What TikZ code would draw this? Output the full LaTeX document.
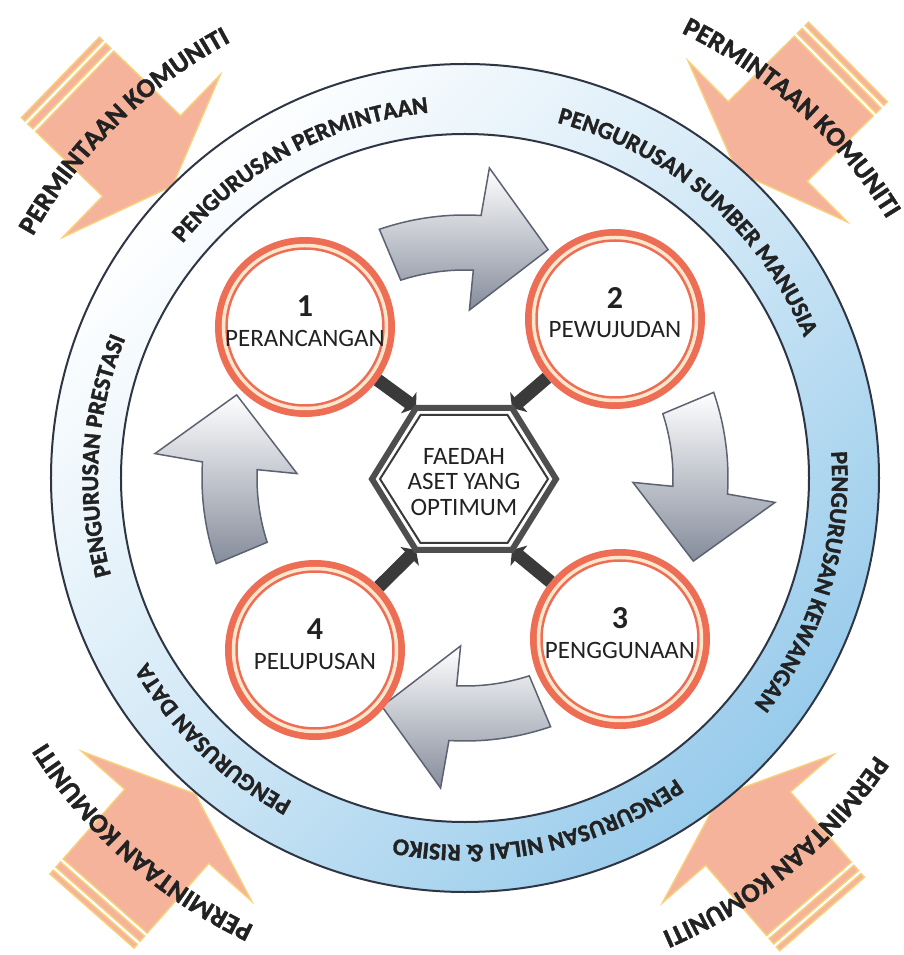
\documentclass[tikz,border=0pt]{standalone}
\usepackage{fontspec}
\setmainfont{Carlito}
\newfontfamily\myHeavy{Carlito}[UprightFont={* Bold}, UprightFeatures={FakeBold=1.6}]
\usetikzlibrary{decorations.text,arrows.meta}
\definecolor{salmon}{HTML}{F5B39B}
\definecolor{glow}{HTML}{F8CF7A}
\definecolor{ringblue}{HTML}{98CBEB}
\definecolor{ringline}{HTML}{2E3545}
\definecolor{coral}{HTML}{EE6E55}
\definecolor{paleline}{HTML}{FCE6CC}
\definecolor{arrowgray}{HTML}{858C9B}
\definecolor{arrowline}{HTML}{5C6272}
\definecolor{darkbar}{HTML}{3A3A3A}
\definecolor{txt}{HTML}{222222}
\newcommand{\myBandFont}{\myHeavy\fontsize{24}{24}\selectfont}
\newcommand{\myKomFont}{\myHeavy\fontsize{27}{27}\selectfont}
\newcommand{\myBand}[2]{\path[font=\myBandFont,decorate,decoration={text along path,text align=center,text color=txt,text={|\myBandFont|#2}}] ({#1+40}:367) arc[start angle={#1+40},end angle={#1-40},radius=367];}
\newcommand{\myKom}[1]{\path[font=\myKomFont,decorate,decoration={text along path,text align=center,text color=txt,text={|\myKomFont|PERMINTAAN KOMUNITI}}] ({#1+30}:495) arc[start angle={#1+30},end angle={#1-30},radius=495];}
\tikzset{
  komarrow/.style={fill=salmon, draw=glow, line width=1.5pt},
  grayarrow/.style={top color=white, middle color=arrowgray!40, bottom color=arrowgray, draw=arrowline, line width=1.5pt},
  stagecircle/.style={circle, draw=coral, line width=7pt, fill=white, minimum size=173pt, inner sep=0pt},
  numtext/.style={font=\bfseries\fontsize{32}{32}\selectfont, text=txt, inner sep=0pt},
  labtext/.style={font=\fontsize{25}{25}\selectfont, text=txt, inner sep=0pt},
  hextext/.style={font=\fontsize{25}{25.5}\selectfont, text=txt, align=center, inner sep=0pt},
  conn/.style={draw=darkbar, line width=13pt, -{Triangle[width=26pt,length=9pt]}},
  hexout/.style={draw=darkbar!90, line width=6pt, fill=white, line join=miter},
  hexin/.style={draw=darkbar, line width=2pt}
}
\begin{document}
\begin{tikzpicture}[x=1pt,y=1pt]
\useasboundingbox (-465,-477) rectangle (439,478);
\fill[white] (-465,-477) rectangle (439,478);
% corner arrows
\foreach \tx/\ty/\ang in {-404.6/400.6/-44.1, 383/416/-135.3, 357/-436/130.9, -373/-433/48.6} {
  \begin{scope}[shift={(\tx,\ty)}, rotate=\ang]
    \filldraw[komarrow] (0,-56) rectangle (5,56);
    \filldraw[komarrow] (9,-56) rectangle (16,56);
    \filldraw[komarrow] (20,-56) -- (113,-56) -- (113,-113) -- (156,0) -- (113,113) -- (113,56) -- (20,56) -- cycle;
  \end{scope}
}
\myKom{134.5}
\myKom{47.8}
\myKom{-50.3}
\myKom{228.5}
% ring band
\shade[top color=white, bottom color=ringblue, middle color=ringblue!45, shading angle=45, even odd rule]
  (0,0) circle[radius=414] (0,0) circle[radius=344];
\draw[ringline, line width=2pt] (0,0) circle[radius=414];
\draw[ringline, line width=2pt] (0,0) circle[radius=344];
\myBand{118}{PENGURUSAN PERMINTAAN}
\myBand{49}{PENGURUSAN SUMBER MANUSIA}
\myBand{-17}{PENGURUSAN KEWANGAN}
\myBand{-78}{PENGURUSAN NILAI {\&} RISIKO}
\myBand{226}{PENGURUSAN DATA}
\myBand{176.5}{PENGURUSAN PRESTASI}
% gray curved arrows
\foreach \a in {0,90,180,270} {
  \shade[grayarrow] ({\a+19}:263) arc[start angle={\a+19}, end angle={\a-3.5}, radius=263]
    -- ({\a-4.5}:311) -- ({\a-20}:243) -- ({\a-1.5}:168) -- ({\a-2.3}:208)
    arc[start angle={\a-2.3}, end angle={\a+18}, radius=208] -- cycle;
}
% stage circles
\node[stagecircle] (c1) at (-160,151) {};
\node[stagecircle] (c2) at (150,159) {};
\node[stagecircle] (c3) at (155,-161) {};
\node[stagecircle] (c4) at (-150,-172) {};
\foreach \c in {c1,c2,c3,c4} {
  \draw[paleline, line width=3.5pt] (\c.center) circle[radius=81.5];
  \draw[coral, line width=2.5pt] (\c.center) circle[radius=78.5];
}
\node[numtext] (n1) at ([yshift=21pt]c1.center) {1};
\node[labtext] (l1) at ([yshift=-11pt]c1.center) {PERANCANGAN};
\node[numtext] (n2) at ([yshift=21pt]c2.center) {2};
\node[labtext] (l2) at ([yshift=-11pt]c2.center) {PEWUJUDAN};
\node[numtext] (n3) at ([yshift=21pt]c3.center) {3};
\node[labtext] (l3) at ([yshift=-11pt]c3.center) {PENGGUNAAN};
\node[numtext] (n4) at ([yshift=21pt]c4.center) {4};
\node[labtext] (l4) at ([yshift=-11pt]c4.center) {PELUPUSAN};
% hexagon
\coordinate (hv1) at (-93,-1);
\coordinate (hv2) at (-49,70);
\coordinate (hv3) at (47,70);
\coordinate (hv4) at (91,-1);
\coordinate (hv5) at (47,-72);
\coordinate (hv6) at (-49,-72);
\draw[conn] (c1) -- (hv2);
\draw[conn] (c2) -- (hv3);
\draw[conn] (c3) -- (hv5);
\draw[conn] (c4) -- (hv6);
\draw[hexout] (hv1) -- (hv2) -- (hv3) -- (hv4) -- (hv5) -- (hv6) -- cycle;
\draw[hexin] (-85,-1) -- (-44.5,63) -- (42.5,63) -- (83,-1) -- (42.5,-65) -- (-44.5,-65) -- cycle;
\node[hextext] (hex) at (-1,-4) {FAEDAH\\ASET YANG\\OPTIMUM};
\end{tikzpicture}
\end{document}
